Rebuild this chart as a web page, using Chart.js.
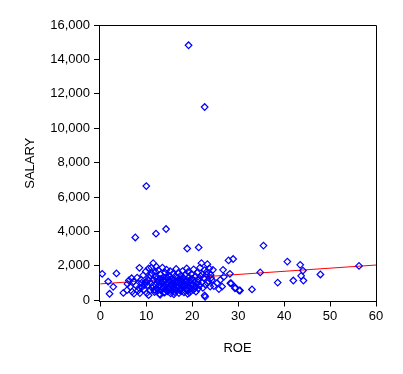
<!DOCTYPE html>
<html>
<head>
<meta charset="utf-8">
<script src="https://cdn.jsdelivr.net/npm/chart.js@4/dist/chart.umd.min.js"></script>
<style>
html,body{margin:0;padding:0;background:#fff;}
#c{display:block;}
</style>
</head>
<body>
<canvas id="c" width="403" height="374"></canvas>
<script>
const roe = [
  19.2, 22.7, 10.0, 14.3, 12.1, 7.6, 18.9, 21.4, 35.5, 28.9, 27.9, 40.7, 43.5, 56.3,
  34.8, 38.6, 42.0, 43.7, 44.2, 44.1, 47.9, 33.0, 30.4, 29.4, 28.5, 28.2,
  0.4, 1.7, 2.0, 2.8, 3.5, 5.0, 5.8, 6.5, 6.8, 7.2, 7.3, 8.5, 22.7, 22.8,
  5.9, 6.2, 6.9, 7.8, 8.0,
  26.7, 26.9, 26.1, 26.5, 25.8, 25.4, 24.7, 24.3, 24.0, 23.2, 28.3, 29.3, 30.2,
  8.2, 8.6, 8.9, 9.1, 9.3, 9.5, 9.8, 9.9, 10.1, 10.3, 10.5, 10.6, 10.8, 11.0,
  11.2, 11.3, 11.5, 11.6, 11.8, 12.0, 12.1, 12.2, 12.4, 12.5, 12.6, 12.8, 12.9,
  13.0, 13.1, 13.2, 13.4, 13.5, 13.6, 13.7, 13.8, 13.9, 14.0, 14.1, 14.2, 14.3,
  14.4, 14.5, 14.6, 14.7, 14.8, 14.9, 15.0, 15.1, 15.2, 15.3, 15.4, 15.5, 15.6,
  15.7, 15.8, 15.9, 16.0, 16.1, 16.2, 16.3, 16.4, 16.5, 16.6, 16.7, 16.8, 16.9,
  17.0, 17.1, 17.2, 17.3, 17.4, 17.5, 17.6, 17.7, 17.8, 17.9, 18.0, 18.1, 18.2,
  18.3, 18.5, 18.6, 18.7, 18.8, 18.9, 19.0, 19.1, 19.2, 19.3, 19.4, 19.5, 19.7,
  19.8, 19.9, 20.0, 20.2, 20.3, 20.4, 20.6, 20.7, 20.8, 21.0, 21.1, 21.3, 21.4,
  21.6, 21.7, 21.8, 22.0, 22.1, 22.3, 22.5, 22.7, 22.9, 23.1, 23.3, 23.5, 23.7,
  23.9, 24.1, 24.5, 23.3,
  10.5, 13.0, 16.0, 19.0, 11.9, 14.6, 17.5, 20.5, 12.7, 15.4, 18.4,
  9.6, 10.4, 10.9, 11.4, 11.7, 12.3, 13.3, 13.6, 14.0, 14.3, 14.8, 15.1, 15.5,
  16.0, 16.4, 16.9, 17.3, 17.6, 18.1, 18.6, 19.2, 19.6, 20.1, 21.2, 22.2, 12.0,
  11.1, 9.0, 8.4
];
const salary = [
  14822, 11233, 6640, 4143, 3870, 3650, 3010, 3070, 3180, 2400, 2320, 2250, 2060, 2000,
  1620, 1030, 1150, 1420, 1150, 1730, 1500, 630, 570, 730, 980, 1540,
  1540, 1090, 380, 780, 1560, 430, 590, 780, 1280, 1090, 390, 1890, 280, 200,
  950, 1150, 500, 850, 1320,
  1770, 1370, 1180, 800, 650, 1000, 830, 1180, 1470, 1660, 990, 700, 570,
  560, 420, 1200, 780, 1450, 620, 1050, 1680, 420, 880, 1850, 1320, 560, 1000,
  1560, 720, 2160, 1180, 480, 900, 1400, 1950, 640, 1100, 1750, 820, 380,
  1250, 1500, 560, 1020, 1900, 700, 1350, 460, 880, 1150, 1600, 620, 1000,
  1780, 760, 1300, 520, 950, 1450, 680, 1100, 1700, 400, 850, 1250, 580,
  1000, 1550, 750, 1180, 480, 920, 1400, 660, 1820, 1050, 560, 1300, 800,
  1600, 420, 980, 1200, 700, 1450, 880, 540, 1100, 1700, 760, 1300, 460,
  950, 1500, 680, 1150, 1850, 580, 1000, 1650, 820, 1350, 440, 1100, 700,
  1520, 920, 1250, 600, 1800, 1050, 780, 1400, 500, 960, 1600, 680, 1200,
  860, 1900, 1400, 2160, 1050, 720, 1300, 1750, 900, 1500, 2100, 1100, 1850,
  800, 1300, 1770, 1000,
  300, 320, 350, 380, 600, 540, 620, 680, 880, 920, 860,
  900, 1150, 1450, 850, 600, 1250, 800, 1150, 450, 1350, 700, 1380, 900,
  650, 1100, 1150, 580, 1250, 900, 1050, 580, 1200, 850, 1050, 1500, 1650,
  1900, 1020, 720
];
// fitted regression line end points
const fitX = [0, 60];
const fitY = [955, 2050];
// axis ticks
const xTicks = [0, 10, 20, 30, 40, 50, 60];
const yTicks = [0, 2000, 4000, 6000, 8000, 10000, 12000, 14000, 16000];
const xTitle = 'ROE';
const yTitle = 'SALARY';

const FONT = {family: "'Liberation Sans', Arial, sans-serif", size: 13};

const scatterData = roe.map((x, i) => ({x: x, y: salary[i]}));
const fitData = fitX.map((x, i) => ({x: x, y: fitY[i]}));

const framePlugin = {
  id: 'frame',
  afterDraw(chart) {
    const a = chart.chartArea, ctx = chart.ctx;
    ctx.save();
    ctx.strokeStyle = '#000';
    ctx.lineWidth = 1;
    ctx.beginPath();
    ctx.moveTo(Math.round(a.left) + 0.5, Math.round(a.top) + 0.5);
    ctx.lineTo(Math.round(a.right) + 0.5, Math.round(a.top) + 0.5);
    ctx.lineTo(Math.round(a.right) + 0.5, Math.round(a.bottom) + 0.5);
    ctx.stroke();
    ctx.restore();
  }
};

new Chart(document.getElementById('c'), {
  type: 'scatter',
  data: {
    datasets: [
      {
        data: scatterData,
        pointStyle: 'rectRot',
        pointRadius: 3.3,
        pointHoverRadius: 3.3,
        pointBorderWidth: 1.2,
        pointBorderColor: '#0000FF',
        pointBackgroundColor: 'rgba(0,0,0,0)',
        borderColor: '#0000FF',
        backgroundColor: 'rgba(0,0,0,0)'
      },
      {
        type: 'line',
        data: fitData,
        showLine: true,
        borderColor: '#FF0000',
        borderWidth: 1,
        pointRadius: 0,
        fill: false,
        tension: 0
      }
    ]
  },
  options: {
    responsive: false,
    animation: false,
    events: [],
    layout: {padding: {left: 0, right: 27, top: 25, bottom: 0}},
    plugins: {legend: {display: false}, tooltip: {enabled: false}},
    scales: {
      x: {
        type: 'linear',
        min: -0.3,
        max: 60,
        afterBuildTicks(scale) { scale.ticks = xTicks.map(v => ({value: v})); },
        afterFit(scale) { scale.height = 72.5; },
        ticks: {
          color: '#000', font: FONT, padding: 2, maxRotation: 0,
          callback: (v) => String(v)
        },
        grid: {drawOnChartArea: false, drawTicks: true, tickLength: 5, color: '#000'},
        border: {display: true, color: '#000', width: 1},
        title: {display: true, text: xTitle, color: '#000', font: FONT, padding: {top: 0, bottom: 18}}
      },
      y: {
        type: 'linear',
        min: -70,
        max: 16000,
        afterBuildTicks(scale) { scale.ticks = yTicks.map(v => ({value: v})); },
        afterFit(scale) { scale.width = 99; },
        ticks: {
          color: '#000', font: FONT, padding: 4,
          callback: (v) => Number(v).toLocaleString('en-US')
        },
        grid: {drawOnChartArea: false, drawTicks: true, tickLength: 5, color: '#000'},
        border: {display: true, color: '#000', width: 1},
        title: {display: true, text: yTitle, color: '#000', font: FONT, padding: {top: 23, bottom: 0}}
      }
    }
  },
  plugins: [framePlugin]
});
</script>
</body>
</html>
